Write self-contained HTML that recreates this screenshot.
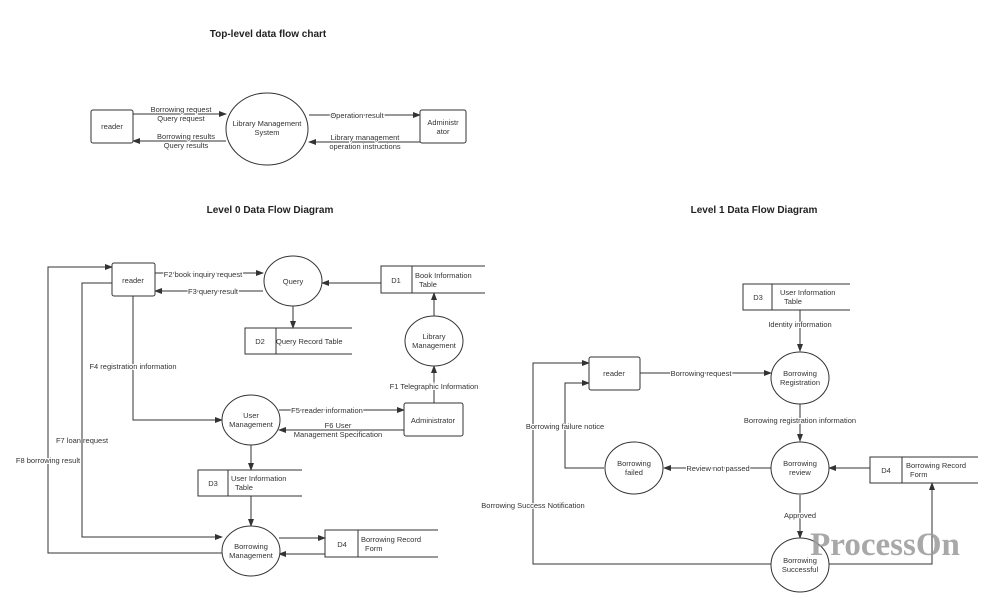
<!DOCTYPE html>
<html><head><meta charset="utf-8"><style>
html,body{margin:0;padding:0;background:#fff;}
svg{display:block;}
text{font-family:"Liberation Sans",sans-serif;font-size:7.5px;fill:#333;}
.t{font-size:10px;font-weight:bold;fill:#222;}
.b{fill:#fff;stroke:#333;stroke-width:1;}
.l{fill:none;stroke:#333;stroke-width:1;}
.lb{paint-order:stroke;stroke:#fff;stroke-width:2px;}
</style></head><body>
<svg width="1000" height="604" viewBox="0 0 1000 604" xmlns="http://www.w3.org/2000/svg">
<defs><marker id="a" markerWidth="8" markerHeight="8" refX="7" refY="4" orient="auto" markerUnits="userSpaceOnUse"><path d="M0,1 L8,4 L0,7 Z" fill="#333"/></marker></defs>

<!-- Top-level -->
<text class="t" x="268" y="37" text-anchor="middle">Top-level data flow chart</text>
<path class="l" d="M133,114 H226" marker-end="url(#a)"/>
<path class="l" d="M226,141 H133" marker-end="url(#a)"/>
<path class="l" d="M309,115 H420" marker-end="url(#a)"/>
<path class="l" d="M420,142 H309" marker-end="url(#a)"/>
<rect class="b" x="91" y="110" width="42" height="33" rx="2"/>
<text x="112" y="129" text-anchor="middle">reader</text>
<ellipse class="b" cx="267" cy="129" rx="41" ry="36"/>
<text x="267" y="126" text-anchor="middle">Library Management</text>
<text x="267" y="135" text-anchor="middle">System</text>
<rect class="b" x="420" y="110" width="46" height="33" rx="2"/>
<text x="443" y="125" text-anchor="middle">Administr</text>
<text x="443" y="134" text-anchor="middle">ator</text>
<text class="lb" x="181" y="112" text-anchor="middle">Borrowing request</text>
<text class="lb" x="181" y="121" text-anchor="middle">Query request</text>
<text class="lb" x="186" y="139" text-anchor="middle">Borrowing results</text>
<text class="lb" x="186" y="148" text-anchor="middle">Query results</text>
<text class="lb" x="357" y="118" text-anchor="middle">Operation result</text>
<text class="lb" x="365" y="140" text-anchor="middle">Library management</text>
<text class="lb" x="365" y="149" text-anchor="middle">operation instructions</text>

<!-- Level 0 -->
<text class="t" x="270" y="213" text-anchor="middle">Level 0 Data Flow Diagram</text>
<path class="l" d="M155,273 H263" marker-end="url(#a)"/>
<path class="l" d="M263,291 H155" marker-end="url(#a)"/>
<path class="l" d="M293,305 V328" marker-end="url(#a)"/>
<path class="l" d="M381,283 H322" marker-end="url(#a)"/>
<path class="l" d="M434,316 V293" marker-end="url(#a)"/>
<path class="l" d="M434,403 V366" marker-end="url(#a)"/>
<path class="l" d="M133,296 V420 H222" marker-end="url(#a)"/>
<path class="l" d="M279,410 H404" marker-end="url(#a)"/>
<path class="l" d="M404,430 H279" marker-end="url(#a)"/>
<path class="l" d="M251,445 V470" marker-end="url(#a)"/>
<path class="l" d="M251,496 V526" marker-end="url(#a)"/>
<path class="l" d="M112,283 H82 V537 H222" marker-end="url(#a)"/>
<path class="l" d="M222,553 H48 V267 H112" marker-end="url(#a)"/>
<path class="l" d="M279,538 H325" marker-end="url(#a)"/>
<path class="l" d="M325,554 H279" marker-end="url(#a)"/>
<rect class="b" x="112" y="263" width="43" height="33" rx="2"/>
<text x="133" y="283" text-anchor="middle">reader</text>
<ellipse class="b" cx="293" cy="281" rx="29" ry="25"/>
<text x="293" y="284" text-anchor="middle">Query</text>
<path class="l" d="M485,266 H381 V293 H485 M412,266 V293"/>
<text x="396" y="283" text-anchor="middle">D1</text>
<text x="415" y="278">Book Information</text>
<text x="419" y="287">Table</text>
<path class="l" d="M352,328 H245 V354 H352 M276,328 V354"/>
<text x="260" y="344" text-anchor="middle">D2</text>
<text x="276" y="344">Query Record Table</text>
<ellipse class="b" cx="434" cy="341" rx="29" ry="25"/>
<text x="434" y="339" text-anchor="middle">Library</text>
<text x="434" y="348" text-anchor="middle">Management</text>
<rect class="b" x="404" y="403" width="59" height="33" rx="2"/>
<text x="433" y="423" text-anchor="middle">Administrator</text>
<ellipse class="b" cx="251" cy="420" rx="29" ry="25"/>
<text x="251" y="418" text-anchor="middle">User</text>
<text x="251" y="427" text-anchor="middle">Management</text>
<path class="l" d="M302,470 H198 V496 H302 M228,470 V496"/>
<text x="213" y="486" text-anchor="middle">D3</text>
<text x="231" y="481">User Information</text>
<text x="235" y="490">Table</text>
<ellipse class="b" cx="251" cy="551" rx="29" ry="25"/>
<text x="251" y="549" text-anchor="middle">Borrowing</text>
<text x="251" y="558" text-anchor="middle">Management</text>
<path class="l" d="M438,530 H325 V557 H438 M358,530 V557"/>
<text x="342" y="547" text-anchor="middle">D4</text>
<text x="361" y="542">Borrowing Record</text>
<text x="365" y="551">Form</text>
<text class="lb" x="203" y="277" text-anchor="middle">F2 book inquiry request</text>
<text class="lb" x="213" y="294" text-anchor="middle">F3 query result</text>
<text class="lb" x="133" y="369" text-anchor="middle">F4 registration information</text>
<text class="lb" x="434" y="389" text-anchor="middle">F1 Telegraphic Information</text>
<text class="lb" x="327" y="413" text-anchor="middle">F5 reader information</text>
<text class="lb" x="338" y="428" text-anchor="middle">F6 User</text>
<text class="lb" x="338" y="437" text-anchor="middle">Management Specification</text>
<text class="lb" x="82" y="443" text-anchor="middle">F7 loan request</text>
<text class="lb" x="48" y="463" text-anchor="middle">F8 borrowing result</text>

<!-- Level 1 -->
<text class="t" x="754" y="213" text-anchor="middle">Level 1 Data Flow Diagram</text>
<path class="l" d="M800,310 V351" marker-end="url(#a)"/>
<path class="l" d="M640,373 H771" marker-end="url(#a)"/>
<path class="l" d="M800,404 V441" marker-end="url(#a)"/>
<path class="l" d="M870,468 H829" marker-end="url(#a)"/>
<path class="l" d="M771,468 H664" marker-end="url(#a)"/>
<path class="l" d="M604,468 H565 V383 H589" marker-end="url(#a)"/>
<path class="l" d="M800,495 V538" marker-end="url(#a)"/>
<path class="l" d="M771,564 H533 V363 H589" marker-end="url(#a)"/>
<path class="l" d="M829,564 H932 V483" marker-end="url(#a)"/>
<path class="l" d="M850,284 H743 V310 H850 M772,284 V310"/>
<text x="758" y="300" text-anchor="middle">D3</text>
<text x="780" y="295">User Information</text>
<text x="784" y="304">Table</text>
<rect class="b" x="589" y="357" width="51" height="33" rx="2"/>
<text x="614" y="376" text-anchor="middle">reader</text>
<ellipse class="b" cx="800" cy="378" rx="29" ry="26"/>
<text x="800" y="376" text-anchor="middle">Borrowing</text>
<text x="800" y="385" text-anchor="middle">Registration</text>
<ellipse class="b" cx="800" cy="468" rx="29" ry="26"/>
<text x="800" y="466" text-anchor="middle">Borrowing</text>
<text x="800" y="475" text-anchor="middle">review</text>
<ellipse class="b" cx="634" cy="468" rx="29" ry="26"/>
<text x="634" y="466" text-anchor="middle">Borrowing</text>
<text x="634" y="475" text-anchor="middle">failed</text>
<path class="l" d="M978,457 H870 V483 H978 M902,457 V483"/>
<text x="886" y="473" text-anchor="middle">D4</text>
<text x="906" y="468">Borrowing Record</text>
<text x="910" y="477">Form</text>
<ellipse class="b" cx="800" cy="565" rx="29" ry="27"/>
<text x="800" y="563" text-anchor="middle">Borrowing</text>
<text x="800" y="572" text-anchor="middle">Successful</text>
<text class="lb" x="800" y="327" text-anchor="middle">Identity information</text>
<text class="lb" x="701" y="376" text-anchor="middle">Borrowing request</text>
<text class="lb" x="800" y="423" text-anchor="middle">Borrowing registration information</text>
<text class="lb" x="718" y="471" text-anchor="middle">Review not passed</text>
<text class="lb" x="565" y="429" text-anchor="middle">Borrowing failure notice</text>
<text class="lb" x="800" y="518" text-anchor="middle">Approved</text>
<text class="lb" x="533" y="508" text-anchor="middle">Borrowing Success Notification</text>
<text x="885" y="555" text-anchor="middle" style="font-family:'Liberation Serif',serif;font-size:33px;font-weight:bold;fill:#9a9a9a;opacity:0.85">ProcessOn</text>
</svg>
</body></html>
